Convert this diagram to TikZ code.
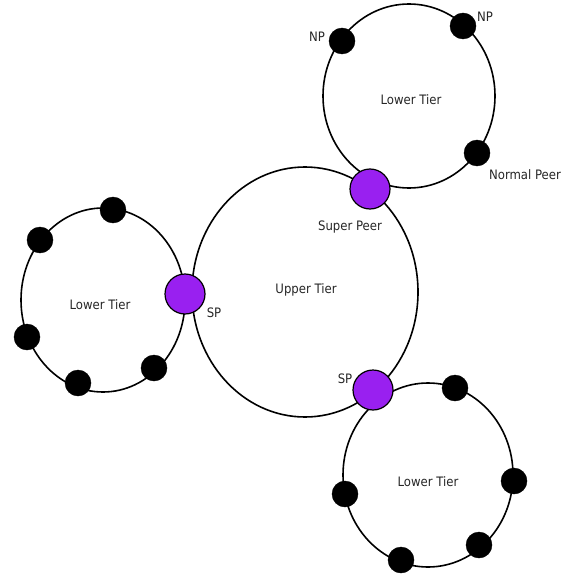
\documentclass[tikz,border=0pt]{standalone}
\usepackage{fontspec}
\setmainfont{DejaVu Sans Condensed}
\begin{document}
\definecolor{superpeer}{RGB}{153,32,240}
\begin{tikzpicture}[x=1pt,y=-1pt,
  ring/.style={draw=black,line width=1.6pt},
  np/.style={circle,fill=black,draw=black,inner sep=0pt,minimum size=26pt},
  sp/.style={circle,fill=superpeer,draw=black,line width=1.2pt,inner sep=0pt,minimum size=40pt},
  lbl/.style={font=\fontsize{13}{15}\selectfont,inner sep=0pt,text=black!85}]
\useasboundingbox (0,0) rectangle (563,575);

% tiers
\draw[ring] (305,292) ellipse (113 and 125);
\draw[ring] (409,96) ellipse (86 and 92);
\draw[ring] (103,300) ellipse (82 and 92);
\draw[ring] (428,475) ellipse (85 and 92);

% tier labels
\node[lbl] (upper) at (306,290) {Upper Tier};
\node[lbl] (lowtop) at (411,100) {Lower Tier};
\node[lbl] (lowleft) at (100,305) {Lower Tier};
\node[lbl] (lowbot) at (428,482) {Lower Tier};

% super peers
\node[sp] (sptop) at (370,189) {};
\node[sp] (spleft) at (185,294) {};
\node[sp] (spbot) at (373,390) {};

% normal peers, top ring
\node[np] (t1) at (342,41) {};
\node[np] (t2) at (463,26) {};
\node[np] (t3) at (477,153) {};

% normal peers, left ring
\node[np] (l1) at (113,210) {};
\node[np] (l2) at (40,240) {};
\node[np] (l3) at (27,337) {};
\node[np] (l4) at (78,383) {};
\node[np] (l5) at (154,368) {};

% normal peers, bottom ring
\node[np] (b1) at (455,388) {};
\node[np] (b2) at (514,481) {};
\node[np] (b3) at (479,545) {};
\node[np] (b4) at (401,560) {};
\node[np] (b5) at (345,494) {};

% peer labels
\node[lbl] (npa) at (317,37) {NP};
\node[lbl] (npb) at (485,17) {NP};
\node[lbl] (normal) at (525,175) {Normal Peer};
\node[lbl] (super) at (350,227) {Super Peer};
\node[lbl] (spl) at (214,313) {SP};
\node[lbl] (spb) at (345,379) {SP};
\end{tikzpicture}
\end{document}
